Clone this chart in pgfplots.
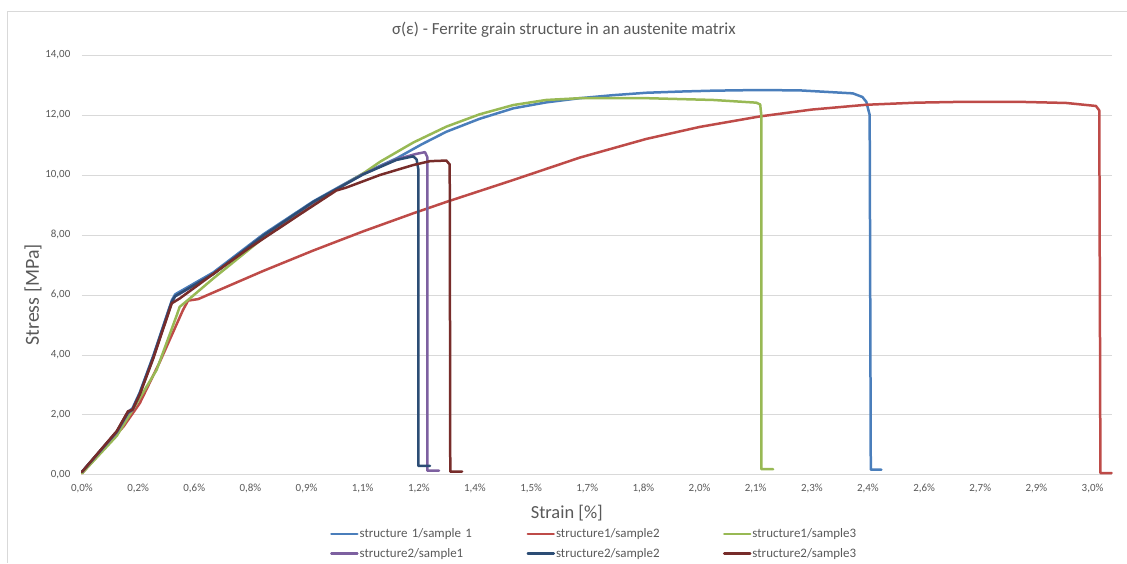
\documentclass[border=0pt]{standalone}
\usepackage{pgfplots}
\pgfplotsset{compat=1.18}
\usepackage{fontspec}
\setmainfont{Carlito}
\definecolor{sblue}{HTML}{4A7EBB}
\definecolor{sred}{HTML}{BE4B48}
\definecolor{sgreen}{HTML}{98B954}
\definecolor{spurple}{HTML}{7D60A0}
\definecolor{snavy}{HTML}{2C4D75}
\definecolor{sdred}{HTML}{772C2A}
\definecolor{gridgray}{HTML}{D9D9D9}
\definecolor{txtgray}{HTML}{595959}
\definecolor{framegray}{HTML}{D9D9D9}
\begin{document}
\begin{tikzpicture}
\path (0bp,0bp) rectangle (1127bp,-563bp);
\draw[framegray, line width=0.75bp] (7bp,-563bp) -- (7bp,-11bp) -- (1127bp,-11bp);
\begin{axis}[
  at={(82bp,-475bp)}, anchor=south west,
  scale only axis, width=1030bp, height=420bp,
  xmin=0, xmax=18.34, ymin=0, ymax=14,
  axis x line=bottom, axis y line=left,
  y axis line style={draw=none},
  x axis line style={-, draw=gridgray, line width=0.75bp},
  tick style={draw=none},
  ymajorgrids, grid style={draw=gridgray, line width=0.75bp},
  xtick={0,1,...,18},
  xticklabels={0{,}0\%,0{,}2\%,0{,}6\%,0{,}8\%,0{,}9\%,1{,}1\%,1{,}2\%,1{,}4\%,1{,}5\%,1{,}7\%,1{,}8\%,2{,}0\%,2{,}1\%,2{,}3\%,2{,}4\%,2{,}6\%,2{,}7\%,2{,}9\%,3{,}0\%},
  ytick={0,2,...,14},
  yticklabels={0{,}00,2{,}00,4{,}00,6{,}00,8{,}00,10{,}00,12{,}00,14{,}00},
  xticklabel style={font=\fontsize{11}{13}\selectfont, text=txtgray, yshift=-4bp},
  yticklabel style={font=\fontsize{11}{13}\selectfont, text=txtgray, xshift=-6bp},
  every axis plot/.append style={line width=2.5bp, line join=round, line cap=round},
  legend columns=3,
  legend cell align=left,
  legend style={draw=none, fill=none, inner sep=0pt,
    at={(0.2408,-0.164)}, anchor=west,
    font=\fontsize{13}{15}\selectfont, text=txtgray,
    nodes={inner sep=1bp, text width=166bp},
    row sep=7bp},
  legend image code/.code={\draw[#1] (0bp,0bp) -- (26bp,0bp);},
  clip=false,
]
\addplot[sblue] coordinates {(0,0.10) (0.62,1.44) (0.82,2.10) (0.90,2.22) (1.03,2.75) (1.27,3.97) (1.60,5.82) (1.66,6.02) (2.34,6.75) (3.23,8.02) (4.12,9.12) (5.01,10.05) (5.60,10.55) (6.05,11.02) (6.49,11.44) (7.08,11.87) (7.68,12.22) (8.27,12.42) (8.87,12.56) (9.46,12.66) (10.05,12.74) (10.65,12.78) (11.24,12.81) (12.0,12.83) (12.78,12.82) (13.73,12.72) (13.90,12.60) (13.97,12.44) (14.03,12.0) (14.05,0.17) (14.24,0.17)};
\addlegendentry{structure 1/sample 1}
\addplot[sred] coordinates {(0,0.05) (0.74,1.61) (1.03,2.39) (1.39,3.78) (1.80,5.50) (1.89,5.81) (2.07,5.86) (2.34,6.08) (3.23,6.80) (4.12,7.48) (5.01,8.12) (5.90,8.72) (6.49,9.10) (7.68,9.83) (8.87,10.58) (10.05,11.20) (11.0,11.60) (12.07,11.95) (13.0,12.18) (13.97,12.34) (14.86,12.41) (15.75,12.44) (16.64,12.44) (17.53,12.40) (18.06,12.30) (18.12,12.15) (18.14,0.06) (18.34,0.06)};
\addlegendentry{structure1/sample2}
\addplot[sgreen] coordinates {(0,0.05) (0.62,1.30) (0.94,2.28) (1.33,3.50) (1.69,5.33) (1.74,5.60) (1.92,5.88) (2.34,6.55) (3.23,7.90) (4.12,9.05) (5.01,10.05) (5.31,10.44) (5.90,11.08) (6.49,11.61) (7.08,12.02) (7.68,12.33) (8.27,12.50) (8.87,12.56) (10.05,12.56) (11.24,12.50) (12.01,12.41) (12.08,12.35) (12.10,12.0) (12.10,0.19) (12.31,0.19)};
\addlegendentry{structure1/sample3}
\addplot[spurple] coordinates {(0,0.10) (0.62,1.42) (0.82,2.06) (0.90,2.16) (1.03,2.70) (1.27,3.92) (1.60,5.76) (1.66,5.95) (2.34,6.70) (3.23,7.97) (4.12,9.08) (5.01,10.03) (5.60,10.52) (5.95,10.70) (6.11,10.76) (6.15,10.60) (6.15,0.14) (6.36,0.14)};
\addlegendentry{structure2/sample1}
\addplot[snavy] coordinates {(0,0.10) (0.62,1.44) (0.82,2.08) (0.90,2.18) (1.03,2.72) (1.27,3.94) (1.60,5.78) (1.66,5.96) (2.34,6.70) (3.23,7.98) (4.12,9.10) (5.01,10.02) (5.60,10.50) (5.90,10.62) (5.96,10.52) (5.99,10.20) (5.99,0.30) (6.20,0.30)};
\addlegendentry{structure2/sample2}
\addplot[sdred] coordinates {(0,0.10) (0.62,1.46) (0.82,2.12) (0.90,2.17) (1.03,2.68) (1.27,3.88) (1.60,5.72) (1.74,5.88) (2.34,6.70) (2.93,7.50) (3.82,8.61) (4.53,9.48) (4.71,9.58) (5.31,10.00) (5.90,10.33) (6.20,10.46) (6.49,10.48) (6.55,10.35) (6.56,0.11) (6.77,0.11)};
\addlegendentry{structure2/sample3}
\end{axis}
\node[text=txtgray, font=\fontsize{17}{20}\selectfont] at (564bp,-30bp) {σ(ε) - Ferrite grain structure in an austenite matrix};
\node[text=txtgray, font=\fontsize{18.5}{22}\selectfont] at (567bp,-513bp) {Strain [\%]};
\node[text=txtgray, font=\fontsize{20}{24}\selectfont, rotate=90] at (33bp,-295bp) {Stress [MPa]};
\end{tikzpicture}
\end{document}
